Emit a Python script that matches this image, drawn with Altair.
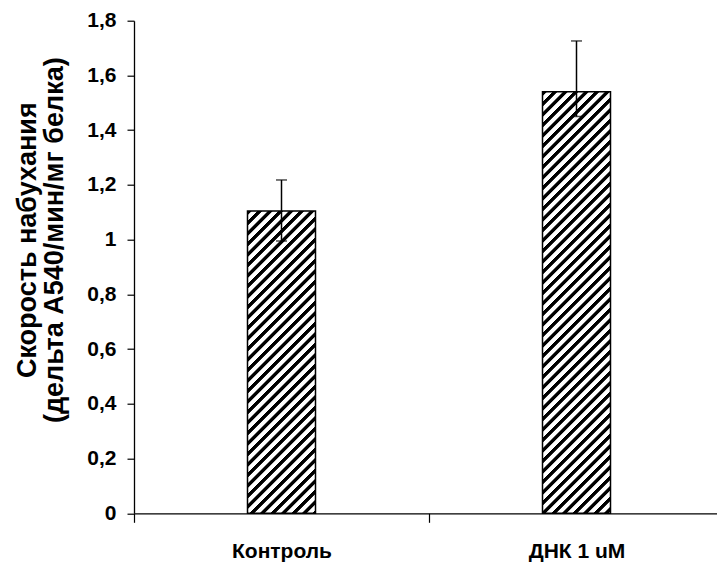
import altair as alt
import pandas as pd

categories = ["Контроль", "ДНК 1 uM"]
values = [1.105, 1.54]
err_low = [0.995, 1.45]
err_high = [1.218, 1.726]

y_ticks = [0, 0.2, 0.4, 0.6, 0.8, 1.0, 1.2, 1.4, 1.6, 1.8]
y_title = ["Скорость набухания", "(дельта А540/мин/мг белка)"]

df = pd.DataFrame({"cat": categories, "val": values, "lo": err_low, "hi": err_high})

PLOT_W = 583
PLOT_H = 492.6
BAR_W = 68
Y_MAX = 1.8
FONT = "Liberation Sans"

x_enc = alt.X("cat:N", sort=categories,
              scale=alt.Scale(range=[0, 590], paddingInner=0, paddingOuter=0),
              axis=alt.Axis(title=None, labelAngle=0, tickBand="extent",
                            labelFont=FONT, labelFontSize=21, labelFontWeight="bold",
                            labelColor="black", labelPadding=18, tickSize=9,
                            domainColor="black", tickColor="black",
                            domainWidth=1.3, tickWidth=1.2))
y_scale = alt.Scale(domain=[0, Y_MAX], nice=False, zero=True)


def hatch(h_px, w_px=BAR_W, period=10.5, frac=0.38):
    total = w_px + h_px
    c = total / (w_px ** 2 + h_px ** 2)
    n = total / period
    stops = []
    k = 0
    soft = 0.08
    while k < n:
        a = k / n
        b = (k + frac) / n
        e = (k + 1) / n
        stops += [
            alt.GradientStop(offset=min(a, 1), color="#000000"),
            alt.GradientStop(offset=min(b, 1), color="#000000"),
            alt.GradientStop(offset=min(b + soft / n, 1), color="#ffffff"),
            alt.GradientStop(offset=min(e - soft / n, 1), color="#ffffff"),
        ]
        k += 1
    return alt.LinearGradient(gradient="linear", stops=stops,
                              x1=0, y1=0, x2=c * w_px, y2=c * h_px)


base = alt.Chart(df)
layers = []
for i, cat in enumerate(categories):
    h = values[i] / Y_MAX * PLOT_H
    layers.append(
        base.transform_filter(alt.datum.cat == cat)
        .mark_bar(width=BAR_W, fill=hatch(h), stroke="black", strokeWidth=1.5)
        .encode(x=x_enc,
                y=alt.Y("val:Q", scale=y_scale,
                        axis=alt.Axis(values=y_ticks, title=y_title,
                                      labelExpr="replace(format(datum.value, '.1~f'), '.', ',')",
                                      labelFont=FONT, labelFontSize=21, labelFontWeight="bold",
                                      labelColor="black", labelPadding=11, tickSize=7,
                                      domainColor="black", tickColor="black",
                                      domainWidth=1.3, tickWidth=1.2, grid=False,
                                      titleFont=FONT, titleFontSize=27, titleFontWeight="bold",
                                      titleColor="black", titleAngle=-90, titleAlign="center",
                                      titleBaseline="top", titleLineHeight=27,
                                      titleX=-120, titleY=219)))
    )

rule = base.mark_rule(color="black", strokeWidth=1.5).encode(
    x=alt.X("cat:N", sort=categories), y=alt.Y("lo:Q", scale=y_scale), y2="hi:Q")
cap_lo = base.mark_tick(color="black", size=11, thickness=1.5).encode(
    x=alt.X("cat:N", sort=categories), y=alt.Y("lo:Q", scale=y_scale))
cap_hi = base.mark_tick(color="black", size=11, thickness=1.5).encode(
    x=alt.X("cat:N", sort=categories), y=alt.Y("hi:Q", scale=y_scale))

chart = alt.layer(*layers, rule, cap_lo, cap_hi).properties(
    width=PLOT_W, height=PLOT_H,
    autosize=alt.AutoSizeParams(type="none"),
    padding={"left": 134, "top": 20.7, "right": 0, "bottom": 568 - 20.7 - PLOT_H},
    background="white",
).configure_view(stroke=None)

chart.save("out.html", embed_options={"renderer": "svg", "actions": False})
